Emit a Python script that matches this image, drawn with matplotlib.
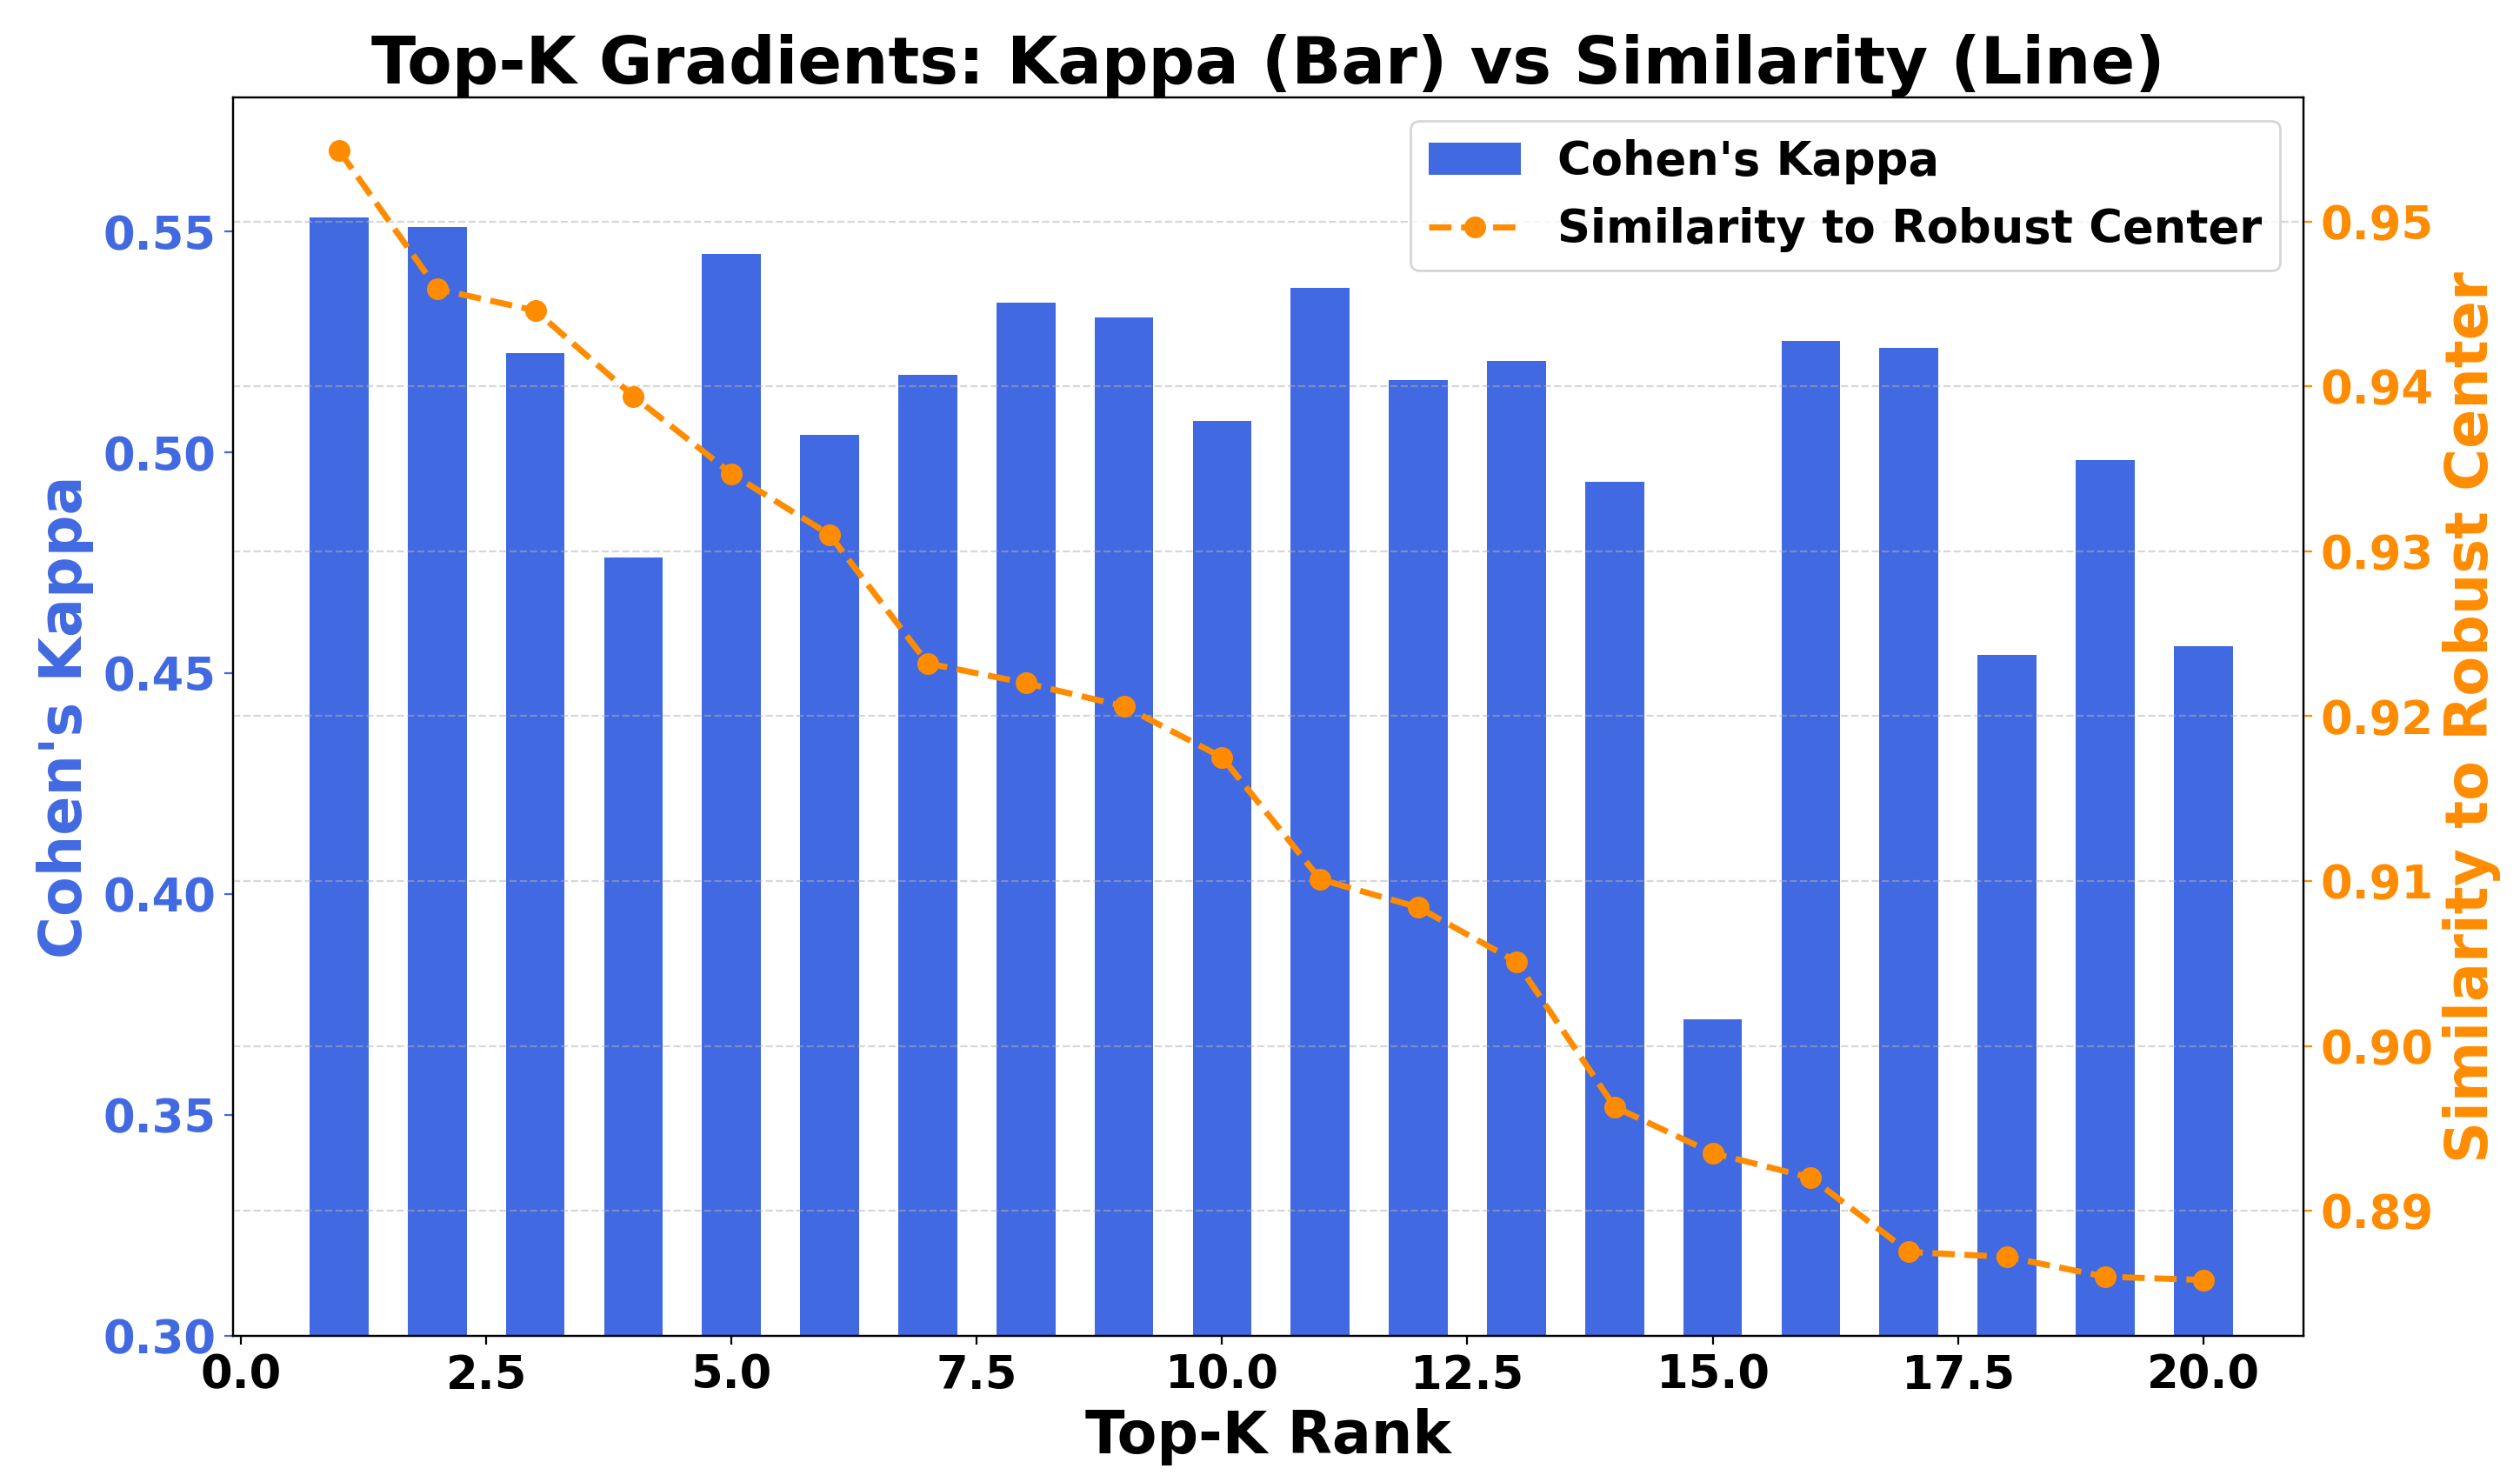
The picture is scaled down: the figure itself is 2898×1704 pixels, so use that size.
import matplotlib
matplotlib.use("Agg")
import matplotlib.pyplot as plt

ranks = list(range(1, 21))
kappa = [0.5533, 0.5511, 0.5226, 0.4762, 0.5449, 0.5040, 0.5175, 0.5339, 0.5306, 0.5072,
         0.5372, 0.5164, 0.5208, 0.4934, 0.3717, 0.5252, 0.5237, 0.4542, 0.4982, 0.4561]
similarity = [0.9543, 0.9459, 0.9446, 0.9394, 0.9347, 0.9310, 0.9232, 0.9220, 0.9206, 0.9175,
              0.9101, 0.9084, 0.9051, 0.8963, 0.8935, 0.8920, 0.8875, 0.8872, 0.8860, 0.8858]

plt.rcParams['font.weight'] = 'bold'
fig, ax = plt.subplots(figsize=(14.49, 8.52), dpi=200)
fig.subplots_adjust(left=0.0925, right=0.914, top=0.934, bottom=0.0985)
b = ax.bar(ranks, kappa, width=0.6, color='royalblue', label="Cohen's Kappa")
ax.set_ylim(0.30, 0.5803)
ax.set_xlim(-0.08, 21.02)
ax.set_xlabel("Top-K Rank", fontsize=24, fontweight='bold', labelpad=4)
ax.set_ylabel("Cohen's Kappa", fontsize=24, fontweight='bold', color='royalblue')
ax.tick_params(axis='y', colors='royalblue', labelsize=19)
ax.tick_params(axis='x', labelsize=19)
ax2 = ax.twinx()
l, = ax2.plot(ranks, similarity, '--o', color='darkorange', lw=2.5, ms=8, label="Similarity to Robust Center")
ax2.set_ylim(0.8824, 0.9575)
ax2.set_ylabel("Similarity to Robust Center", fontsize=24, fontweight='bold', color='darkorange')
ax2.tick_params(axis='y', colors='darkorange', labelsize=19)
ax2.grid(True, axis='y', linestyle='--', alpha=0.5)
ax.set_title("Top-K Gradients: Kappa (Bar) vs Similarity (Line)", fontsize=27, fontweight='bold')
ax2.legend([b, l], ["Cohen's Kappa", "Similarity to Robust Center"], loc='upper right', fontsize=19)
fig.savefig("out.png")
